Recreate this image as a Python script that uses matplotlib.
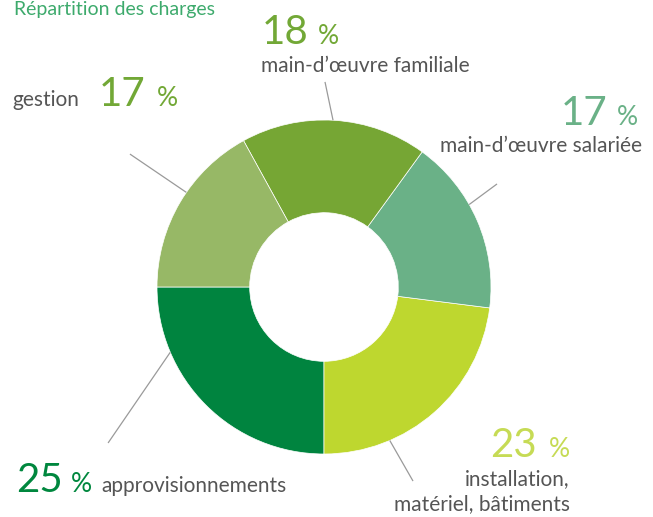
import matplotlib
matplotlib.use("Agg")
import numpy as np
import matplotlib.pyplot as plt

# data (counter-clockwise from 9 o'clock)
labels = ["approvisionnements", "installation,\nmatériel, bâtiments",
          "main-d\u2019œuvre salariée", "main-d\u2019œuvre familiale", "gestion"]
shares = [25, 23, 17, 18, 17]
colors = ["#00843F", "#BED72F", "#6AB187", "#76A634", "#97B866"]
num_colors = ["#00873E", "#C6DB55", "#6AB187", "#72A836", "#72A836"]

plt.rcParams['font.family'] = ['Lato', 'DejaVu Sans']
grey = "#555555"

W, H = 653, 517
cx, cy, R = 324, 287, 167

fig = plt.figure(figsize=(W / 100, H / 100), dpi=100)
ax = fig.add_axes([0, 0, 1, 1])
ax.pie(shares, colors=colors, startangle=180, counterclock=True, radius=1,
       wedgeprops=dict(width=0.555, edgecolor="white", linewidth=0.5))
ax.set_xlim(-cx / R, (W - cx) / R)
ax.set_ylim(-(H - cy) / R, cy / R)
ax.set_aspect("auto")
ax.axis("off")

# leader lines: start angle on the ring, end point (data units)
leaders = [(203, (-1.293, -0.934)), (293.2, (0.533, -1.162)),
           (29.6, (1.036, 0.617)), (86.9, (0.006, 1.228)),
           (145.5, (-1.162, 0.796))]
for ang, (ex, ey) in leaders:
    a = np.deg2rad(ang)
    ax.plot([np.cos(a), ex], [np.sin(a), ey], color="#9a9a9a", lw=0.9,
            solid_capstyle="butt")


def px(x, y, s, size, color, ha="left", weight="normal"):
    fig.text(x / W, 1 - y / H, s, fontsize=size, color=color, ha=ha,
             va="baseline", fontweight=weight)


lab = 15
big = 29
pct = 19

# title (cut at top edge in the original)
px(14, 15, "Répartition des charges", 14, "#3DAA6C")

# gestion
px(12, 106, "gestion", lab, grey)
px(99, 106, str(shares[4]), big, num_colors[4])
px(157, 106, "%", pct, num_colors[4])

# familiale
px(262, 44, str(shares[3]), big, num_colors[3])
px(318, 44, "%", pct, num_colors[3])
px(261, 72, labels[3], lab, grey)

# salariée
px(607, 125, str(shares[2]), big, num_colors[2], ha="right")
px(617, 125, "%", pct, num_colors[2])
px(642, 152, labels[2], lab, grey, ha="right")

# installation
px(537, 457, str(shares[1]), big, num_colors[1], ha="right")
px(549, 457, "%", pct, num_colors[1])
px(570, 485, "installation,", lab, grey, ha="right")
px(570, 510, "matériel, bâtiments", lab, grey, ha="right")

# approvisionnements
px(16, 492, str(shares[0]), big, num_colors[0])
px(71, 492, "%", pct, num_colors[0])
px(101, 492, labels[0], lab, grey)

fig.savefig("out.png", dpi=100)
